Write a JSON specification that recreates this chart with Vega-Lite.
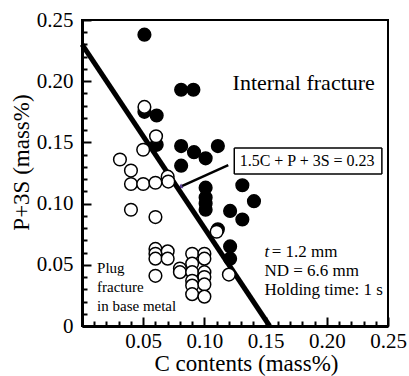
{
  "$schema": "https://vega.github.io/schema/vega-lite/v6.json",
  "width": 306,
  "height": 306,
  "autosize": {"type": "none"},
  "padding": {"left": 82, "top": 20, "right": 21, "bottom": 50},
  "background": "white",
  "view": {"stroke": "black", "strokeWidth": 2},
  "data": {"values": [{"note": "annotation"}]},
  "datasets": {
    "pts": [
      {"C": 0.051, "PS": 0.238, "fracture": "Internal"},
      {"C": 0.081, "PS": 0.193, "fracture": "Internal"},
      {"C": 0.091, "PS": 0.193, "fracture": "Internal"},
      {"C": 0.051, "PS": 0.175, "fracture": "Internal"},
      {"C": 0.061, "PS": 0.172, "fracture": "Internal"},
      {"C": 0.061, "PS": 0.148, "fracture": "Internal"},
      {"C": 0.081, "PS": 0.147, "fracture": "Internal"},
      {"C": 0.0915, "PS": 0.142, "fracture": "Internal"},
      {"C": 0.101, "PS": 0.137, "fracture": "Internal"},
      {"C": 0.111, "PS": 0.147, "fracture": "Internal"},
      {"C": 0.081, "PS": 0.131, "fracture": "Internal"},
      {"C": 0.101, "PS": 0.113, "fracture": "Internal"},
      {"C": 0.101, "PS": 0.105, "fracture": "Internal"},
      {"C": 0.101, "PS": 0.1, "fracture": "Internal"},
      {"C": 0.101, "PS": 0.095, "fracture": "Internal"},
      {"C": 0.131, "PS": 0.115, "fracture": "Internal"},
      {"C": 0.1405, "PS": 0.102, "fracture": "Internal"},
      {"C": 0.121, "PS": 0.094, "fracture": "Internal"},
      {"C": 0.131, "PS": 0.087, "fracture": "Internal"},
      {"C": 0.111, "PS": 0.079, "fracture": "Internal"},
      {"C": 0.121, "PS": 0.065, "fracture": "Internal"},
      {"C": 0.121, "PS": 0.055, "fracture": "Internal"},
      {"C": 0.051, "PS": 0.179, "fracture": "Plug"},
      {"C": 0.0605, "PS": 0.155, "fracture": "Plug"},
      {"C": 0.05, "PS": 0.144, "fracture": "Plug"},
      {"C": 0.031, "PS": 0.136, "fracture": "Plug"},
      {"C": 0.04, "PS": 0.127, "fracture": "Plug"},
      {"C": 0.07, "PS": 0.122, "fracture": "Plug"},
      {"C": 0.04, "PS": 0.116, "fracture": "Plug"},
      {"C": 0.05, "PS": 0.116, "fracture": "Plug"},
      {"C": 0.06, "PS": 0.117, "fracture": "Plug"},
      {"C": 0.0705, "PS": 0.118, "fracture": "Plug"},
      {"C": 0.04, "PS": 0.095, "fracture": "Plug"},
      {"C": 0.06, "PS": 0.089, "fracture": "Plug"},
      {"C": 0.11, "PS": 0.077, "fracture": "Plug"},
      {"C": 0.06, "PS": 0.063, "fracture": "Plug"},
      {"C": 0.06, "PS": 0.059, "fracture": "Plug"},
      {"C": 0.06, "PS": 0.055, "fracture": "Plug"},
      {"C": 0.07, "PS": 0.061, "fracture": "Plug"},
      {"C": 0.07, "PS": 0.055, "fracture": "Plug"},
      {"C": 0.06, "PS": 0.041, "fracture": "Plug"},
      {"C": 0.08, "PS": 0.047, "fracture": "Plug"},
      {"C": 0.08, "PS": 0.044, "fracture": "Plug"},
      {"C": 0.09, "PS": 0.059, "fracture": "Plug"},
      {"C": 0.09, "PS": 0.051, "fracture": "Plug"},
      {"C": 0.09, "PS": 0.044, "fracture": "Plug"},
      {"C": 0.09, "PS": 0.037, "fracture": "Plug"},
      {"C": 0.09, "PS": 0.033, "fracture": "Plug"},
      {"C": 0.09, "PS": 0.026, "fracture": "Plug"},
      {"C": 0.1, "PS": 0.059, "fracture": "Plug"},
      {"C": 0.1, "PS": 0.055, "fracture": "Plug"},
      {"C": 0.1, "PS": 0.044, "fracture": "Plug"},
      {"C": 0.1, "PS": 0.04, "fracture": "Plug"},
      {"C": 0.1, "PS": 0.034, "fracture": "Plug"},
      {"C": 0.1, "PS": 0.024, "fracture": "Plug"},
      {"C": 0.12, "PS": 0.042, "fracture": "Plug"}
    ]
  },
  "resolve": {"axis": {"x": "independent", "y": "independent"}},
  "layer": [
    {
      "layer": [
        {
          "mark": {"type": "rule", "strokeWidth": 2.5, "color": "black"},
          "encoding": {"x": {"datum": 0.1195, "axis": null}, "y": {"datum": 0.1315, "axis": null}, "x2": {"datum": 0.0815}, "y2": {"datum": 0.1143}}
        },
        {
          "mark": {"type": "point", "shape": "triangle", "angle": 245, "size": 28, "filled": true, "color": "#5b3f8f", "opacity": 1},
          "encoding": {"x": {"datum": 0.0808, "axis": null}, "y": {"datum": 0.1139, "axis": null}}
        },
        {
          "mark": {"type": "rule", "strokeWidth": 1.5, "color": "black"},
          "encoding": {"x": {"datum": 0.1244, "axis": null}, "x2": {"datum": 0.245}, "y": {"datum": 0.1454, "axis": null}}
        },
        {
          "mark": {"type": "rule", "strokeWidth": 1.5, "color": "black"},
          "encoding": {"x": {"datum": 0.1244, "axis": null}, "x2": {"datum": 0.245}, "y": {"datum": 0.1242, "axis": null}}
        },
        {
          "mark": {"type": "rule", "strokeWidth": 1.5, "color": "black"},
          "encoding": {"x": {"datum": 0.1244, "axis": null}, "y": {"datum": 0.1242, "axis": null}, "y2": {"datum": 0.1454}}
        },
        {
          "mark": {"type": "rule", "strokeWidth": 1.5, "color": "black"},
          "encoding": {"x": {"datum": 0.245, "axis": null}, "y": {"datum": 0.1242, "axis": null}, "y2": {"datum": 0.1454}}
        },
        {
          "mark": {"type": "text", "text": "1.5C + P + 3S = 0.23", "align": "left", "baseline": "alphabetic", "fontSize": 16, "font": "Liberation Serif", "color": "black"},
          "encoding": {"x": {"datum": 0.1288, "axis": null}, "y": {"datum": 0.1311, "axis": null}}
        },
        {
          "mark": {"type": "text", "text": "Internal fracture", "align": "left", "baseline": "alphabetic", "fontSize": 22, "font": "Liberation Serif", "color": "black"},
          "encoding": {"x": {"datum": 0.123, "axis": null}, "y": {"datum": 0.1928, "axis": null}}
        },
        {
          "mark": {"type": "text", "text": ["Plug", "fracture", "in base metal"], "align": "left", "baseline": "alphabetic", "fontSize": 15, "lineHeight": 19, "font": "Liberation Serif", "color": "black"},
          "encoding": {"x": {"datum": 0.0123, "axis": null}, "y": {"datum": 0.0435, "axis": null}}
        },
        {
          "mark": {"type": "text", "text": "t", "align": "left", "baseline": "alphabetic", "fontSize": 17, "fontStyle": "italic", "font": "Liberation Serif", "color": "black"},
          "encoding": {"x": {"datum": 0.149, "axis": null}, "y": {"datum": 0.0561, "axis": null}}
        },
        {
          "mark": {"type": "text", "text": "= 1.2 mm", "align": "left", "baseline": "alphabetic", "fontSize": 17, "font": "Liberation Serif", "color": "black"},
          "encoding": {"x": {"datum": 0.155, "axis": null}, "y": {"datum": 0.0561, "axis": null}}
        },
        {
          "mark": {"type": "text", "text": ["ND = 6.6 mm", "Holding time: 1 s"], "align": "left", "baseline": "alphabetic", "fontSize": 17, "lineHeight": 19, "font": "Liberation Serif", "color": "black"},
          "encoding": {"x": {"datum": 0.149, "axis": null}, "y": {"datum": 0.0406, "axis": null}}
        }
      ]
    },
    {
      "mark": {"type": "rule", "strokeWidth": 5, "color": "black"},
      "encoding": {
        "x": {
          "datum": 0,
          "type": "quantitative",
          "scale": {"domain": [0, 0.25], "nice": false, "zero": false},
          "axis": {
            "orient": "bottom",
            "title": null,
            "values": [0.01, 0.02, 0.03, 0.04, 0.06, 0.07, 0.08, 0.09, 0.11, 0.12, 0.13, 0.14, 0.16, 0.17, 0.18, 0.19, 0.21, 0.22, 0.23, 0.24],
            "labels": false,
            "domain": false,
            "grid": false,
            "ticks": true,
            "tickSize": -5,
            "tickWidth": 2,
            "tickColor": "black",
            "zindex": 1
          }
        },
        "y": {
          "datum": 0.23,
          "type": "quantitative",
          "scale": {"domain": [0, 0.25], "nice": false, "zero": false},
          "axis": {
            "orient": "left",
            "title": null,
            "values": [0.01, 0.02, 0.03, 0.04, 0.06, 0.07, 0.08, 0.09, 0.11, 0.12, 0.13, 0.14, 0.16, 0.17, 0.18, 0.19, 0.21, 0.22, 0.23, 0.24],
            "labels": false,
            "domain": false,
            "grid": false,
            "ticks": true,
            "tickSize": -5,
            "tickWidth": 2,
            "tickColor": "black",
            "zindex": 1
          }
        },
        "x2": {"datum": 0.1533},
        "y2": {"datum": 0}
      }
    },
    {
      "data": {"name": "pts"},
      "mark": {"type": "point", "shape": "circle", "size": 160, "stroke": "black", "strokeWidth": 1.5, "opacity": 1},
      "encoding": {
        "x": {
          "field": "C",
          "type": "quantitative",
          "scale": {"domain": [0, 0.25], "nice": false, "zero": false},
          "axis": {
            "orient": "bottom",
            "title": "C contents (mass%)",
            "values": [0, 0.05, 0.1, 0.15, 0.2, 0.25],
            "labelExpr": "datum.value > 0 ? format(datum.value, '.2f') : ''",
            "grid": false,
            "domain": true,
            "domainColor": "black",
            "domainWidth": 3,
            "ticks": true,
            "tickSize": -9,
            "tickWidth": 2,
            "tickColor": "black",
            "labelColor": "black",
            "labelFont": "Liberation Serif",
            "labelFontSize": 21,
            "labelOverlap": false,
            "labelFlush": false,
            "labelPadding": 13,
            "titleFont": "Liberation Serif",
            "titleFontSize": 23,
            "titleFontWeight": "normal",
            "titleColor": "black",
            "titleX": 164,
            "titleY": 44,
            "titleBaseline": "alphabetic",
            "zindex": 1
          }
        },
        "y": {
          "field": "PS",
          "type": "quantitative",
          "scale": {"domain": [0, 0.25], "nice": false, "zero": false},
          "axis": {
            "orient": "left",
            "title": "P+3S (mass%)",
            "values": [0, 0.05, 0.1, 0.15, 0.2, 0.25],
            "labelExpr": "datum.value == 0 ? '0' : format(datum.value, '.2f')",
            "grid": false,
            "domain": true,
            "domainColor": "black",
            "domainWidth": 3,
            "ticks": true,
            "tickSize": -9,
            "tickWidth": 2,
            "tickColor": "black",
            "labelColor": "black",
            "labelFont": "Liberation Serif",
            "labelFontSize": 21,
            "labelOverlap": false,
            "labelFlush": false,
            "labelPadding": 18,
            "titleFont": "Liberation Serif",
            "titleFontSize": 23,
            "titleFontWeight": "normal",
            "titleColor": "black",
            "titleX": -61,
            "titleY": 142,
            "titleBaseline": "middle",
            "titleAlign": "center",
            "titleAngle": -90,
            "zindex": 1
          }
        },
        "fill": {
          "field": "fracture",
          "type": "nominal",
          "scale": {"domain": ["Internal", "Plug"], "range": ["black", "white"]},
          "legend": null
        }
      }
    }
  ]
}
